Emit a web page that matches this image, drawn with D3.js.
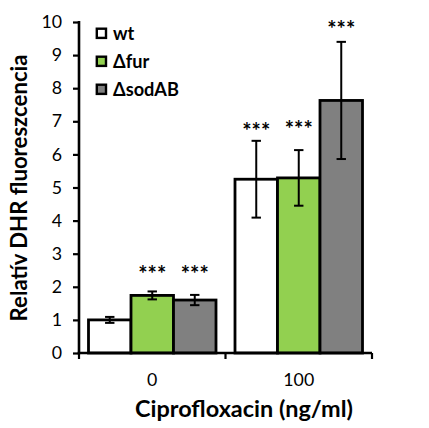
<!DOCTYPE html>
<html><head><meta charset="utf-8">
<script src="https://cdn.jsdelivr.net/npm/d3@7"></script>
<style>
html,body{margin:0;padding:0;background:#fff;}
svg{display:block;}
text{font-family:Lato,"Open Sans",sans-serif;fill:#000;}
</style></head>
<body>
<svg id="c" width="429" height="428"></svg>
<script>
const groups = ["0", "100"];
const series = ["wt", "Δfur", "ΔsodAB"];
const wtValues   = [1.00, 5.25];
const furValues  = [1.74, 5.29];
const sodValues  = [1.60, 7.63];
const wtErr  = [0.09, 1.16];
const furErr = [0.12, 0.84];
const sodErr = [0.155, 1.77];
// significance markers: [group, series, level (data units)]
const sigMarks = [["0","Δfur",2.51],["0","ΔsodAB",2.51],["100","wt",6.83],["100","Δfur",6.89],["100","ΔsodAB",9.91]];
const yTicks = [0,1,2,3,4,5,6,7,8,9,10];
const colors = ["#FFFFFF", "#92D050", "#808080"];
const yTitle = "Relatív DHR fluoreszcencia";
const xTitle = "Ciprofloxacin (ng/ml)";

(function(){
const vals = [wtValues, furValues, sodValues];
const errs = [wtErr, furErr, sodErr];
const rows = [];
groups.forEach((g, gi) => series.forEach((s, si) => rows.push({g, s, si, v: vals[si][gi], e: errs[si][gi]})));

const svg = d3.select("#c");
const mLeft = 79, mRight = 372, mTop = 22, mBottom = 353;
const y = d3.scaleLinear().domain([0, 10]).range([mBottom, mTop]);
const x0 = d3.scaleBand().domain(groups).range([mLeft, mRight]);
const x1 = d3.scaleBand().domain(series).range([9.5, x0.bandwidth() - 9.5]);
const color = d3.scaleOrdinal().domain(series).range(colors);

function fitSize(family, weight, sample, target, base){
  const t = svg.append("text").attr("font-family", family).attr("font-weight", weight).attr("font-size", base).text(sample);
  const w = t.node().getComputedTextLength();
  t.remove();
  return w > 0 ? base * target / w : base;
}
const FONT = "Lato,'Open Sans',sans-serif";
const tickFs = fitSize(FONT, "normal", "10", 20.6, 18);
const legFs = fitSize(FONT, "bold", "ΔsodAB", 66, 17);
const starFam = "'DejaVu Sans',sans-serif";
const starFs = fitSize(starFam, "normal", "***", 28, 18);

// bars
svg.append("g").selectAll("rect").data(rows).join("rect")
  .attr("x", d => x0(d.g) + x1(d.s))
  .attr("y", d => y(d.v))
  .attr("width", x1.bandwidth())
  .attr("height", d => y(0) - y(d.v))
  .attr("fill", d => color(d.s))
  .attr("stroke", "#000").attr("stroke-width", 2.8);

// error bars
const eb = svg.append("g").attr("stroke", "#000").attr("stroke-width", 2);
rows.forEach(d => {
  const cx = x0(d.g) + x1(d.s) + x1.bandwidth() / 2;
  eb.append("line").attr("x1", cx).attr("x2", cx).attr("y1", y(d.v + d.e)).attr("y2", y(d.v - d.e));
  [d.v + d.e, d.v - d.e].forEach(t => eb.append("line").attr("x1", cx - 4.7).attr("x2", cx + 4.7).attr("y1", y(t)).attr("y2", y(t)));
});

// significance stars
svg.append("g").selectAll("text").data(sigMarks).join("text")
  .attr("x", d => x0(d[0]) + x1(d[1]) + x1.bandwidth() / 2)
  .attr("y", d => y(d[2]) + 0.56 * starFs)
  .attr("text-anchor", "middle")
  .attr("font-family", starFam)
  .attr("font-size", starFs.toFixed(2)).attr("font-weight", "bold").attr("fill", "#1a1a1a")
  .text("***");

// y axis
const yAxis = svg.append("g").attr("transform", `translate(${mLeft},0)`)
  .call(d3.axisLeft(y).tickValues(yTicks).tickSize(6).tickPadding(11));
yAxis.select(".domain").attr("stroke", "#000").attr("stroke-width", 2.6).attr("d", `M0,${mBottom + 1.3}V${mTop - 1}`);
yAxis.selectAll(".tick line").attr("stroke", "#000").attr("stroke-width", 2.2);
yAxis.selectAll(".tick text").attr("font-size", tickFs.toFixed(2)).attr("font-family", FONT).attr("fill", "#000");

// x axis
const xAxis = svg.append("g").attr("transform", `translate(0,${mBottom})`)
  .call(d3.axisBottom(x0).tickSize(0).tickPadding(20));
xAxis.select(".domain").attr("stroke", "#000").attr("stroke-width", 2.6).attr("d", `M${mLeft - 1.3},0H${mRight}`);
xAxis.selectAll(".tick text").attr("font-size", tickFs.toFixed(2)).attr("font-family", FONT).attr("fill", "#000");
// boundary ticks between categories
const bounds = [mLeft, ...groups.map(g => x0(g) + x0.bandwidth())];
svg.append("g").selectAll("line").data(bounds).join("line")
  .attr("x1", d => d).attr("x2", d => d).attr("y1", mBottom).attr("y2", mBottom + 6)
  .attr("stroke", "#000").attr("stroke-width", 2.2);

// titles
const ytFs = fitSize(FONT, "bold", yTitle, 267, 18);
svg.append("text").attr("transform", "translate(27,188) rotate(-90)")
  .attr("text-anchor", "middle").attr("font-weight", "bold").attr("font-size", ytFs.toFixed(2)).text(yTitle);
const xtFs = fitSize(FONT, "bold", xTitle, 218, 20);
svg.append("text").attr("x", 244).attr("y", 417)
  .attr("text-anchor", "middle").attr("font-weight", "bold").attr("font-size", xtFs.toFixed(2)).text(xTitle);

// legend
const lg = svg.append("g");
series.forEach((s, i) => {
  const cy = 33.3 + i * 28;
  lg.append("rect").attr("x", 96.8).attr("y", cy - 4.6).attr("width", 9.2).attr("height", 9.2)
    .attr("fill", color(s)).attr("stroke", "#000").attr("stroke-width", 2.4);
  lg.append("text").attr("x", 113).attr("y", cy + 0.36 * legFs).attr("font-weight", "bold").attr("font-size", legFs.toFixed(2)).text(s);
});
})();
</script>
</body></html>
